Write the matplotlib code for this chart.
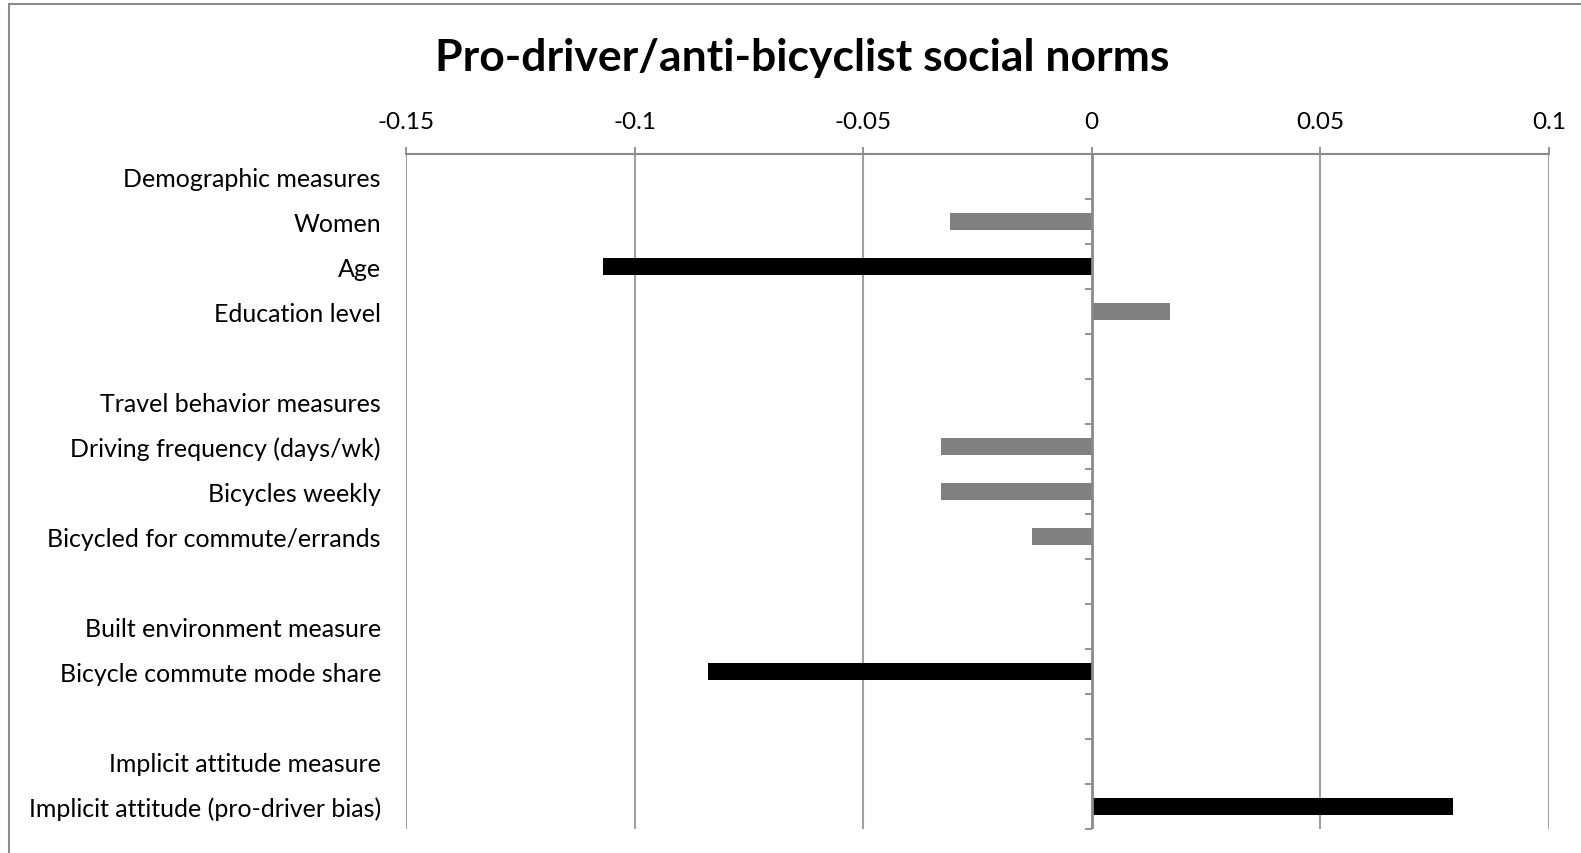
import matplotlib
matplotlib.use("Agg")
import matplotlib.pyplot as plt
from matplotlib.patches import Rectangle
from matplotlib.markers import TICKLEFT

# Rows of the chart, top to bottom (blank strings are spacer rows)
categories = [
    "Demographic measures",
    "Women",
    "Age",
    "Education level",
    "",
    "Travel behavior measures",
    "Driving frequency (days/wk)",
    "Bicycles weekly",
    "Bicycled for commute/errands",
    "",
    "Built environment measure",
    "Bicycle commute mode share",
    "",
    "Implicit attitude measure",
    "Implicit attitude (pro-driver bias)",
]
# Coefficients (None = heading / spacer row)
values = [None, -0.031, -0.107, 0.017, None,
          None, -0.033, -0.033, -0.013, None,
          None, -0.084, None,
          None, 0.079]
# Significant effects are drawn in black, the rest in grey
significant = [False, False, True, False, False,
               False, False, False, False, False,
               False, True, False,
               False, True]
x_ticks = [-0.15, -0.1, -0.05, 0, 0.05, 0.1]
x_tick_labels = ["-0.15", "-0.1", "-0.05", "0", "0.05", "0.1"]
title = "Pro-driver/anti-bicyclist social norms"

plt.rcParams["font.family"] = ["Lato", "DejaVu Sans"]

W, H = 1581, 854
fig = plt.figure(figsize=(W / 100, H / 100), dpi=100)
fig.patch.set_facecolor("white")

# Chart frame (only top and left edges fall inside the image)
fig.patches.append(Rectangle((9 / W, -0.1), 1.2, 1 - 5 / H + 0.1,
                             transform=fig.transFigure, fill=False,
                             edgecolor="#8c8c8c", linewidth=1.5))

left, right, top, bottom = 406, 1549, 155, 830
ax = fig.add_axes([left / W, 1 - bottom / H, (right - left) / W, (bottom - top) / H])

grid_col = "#a0a0a0"
axis_col = "#8a8a8a"

for i, (v, sig) in enumerate(zip(values, significant)):
    if v is None:
        continue
    ax.barh(i, v, height=0.39, color="black" if sig else "#808080", zorder=3)

ax.set_xlim(-0.15, 0.1)
ax.set_ylim(len(categories) - 0.5, -0.5)

ax.set_xticks(x_ticks)
ax.set_xticklabels(x_tick_labels)
ax.xaxis.tick_top()
ax.tick_params(axis="x", which="major", direction="out", length=5, width=1.3,
               color=axis_col, labelsize=17.5, pad=11, labelcolor="black")
for x in x_ticks:
    if x != 0:
        ax.axvline(x, color=grid_col, linewidth=1.5, zorder=1)

ax.set_yticks(range(len(categories)))
ax.set_yticklabels(categories)
ax.tick_params(axis="y", length=0, labelsize=18, pad=18, labelcolor="black")

for name in ["left", "right", "bottom"]:
    ax.spines[name].set_visible(False)
ax.spines["top"].set_color(axis_col)
ax.spines["top"].set_linewidth(1.5)

# Category axis at zero with tick marks between rows
ax.axvline(0, color=axis_col, linewidth=2, zorder=4)
bounds = [i - 0.5 for i in range(len(categories) + 1)]
ax.plot([0] * len(bounds), bounds, linestyle="none", marker=TICKLEFT,
        markersize=5, markeredgewidth=1.3, color=axis_col, zorder=4, clip_on=False)

fig.text(802 / W, 1 - 58 / H, title, ha="center", va="center",
         fontsize=32, fontweight="bold")

fig.savefig("out.png", dpi=100)
